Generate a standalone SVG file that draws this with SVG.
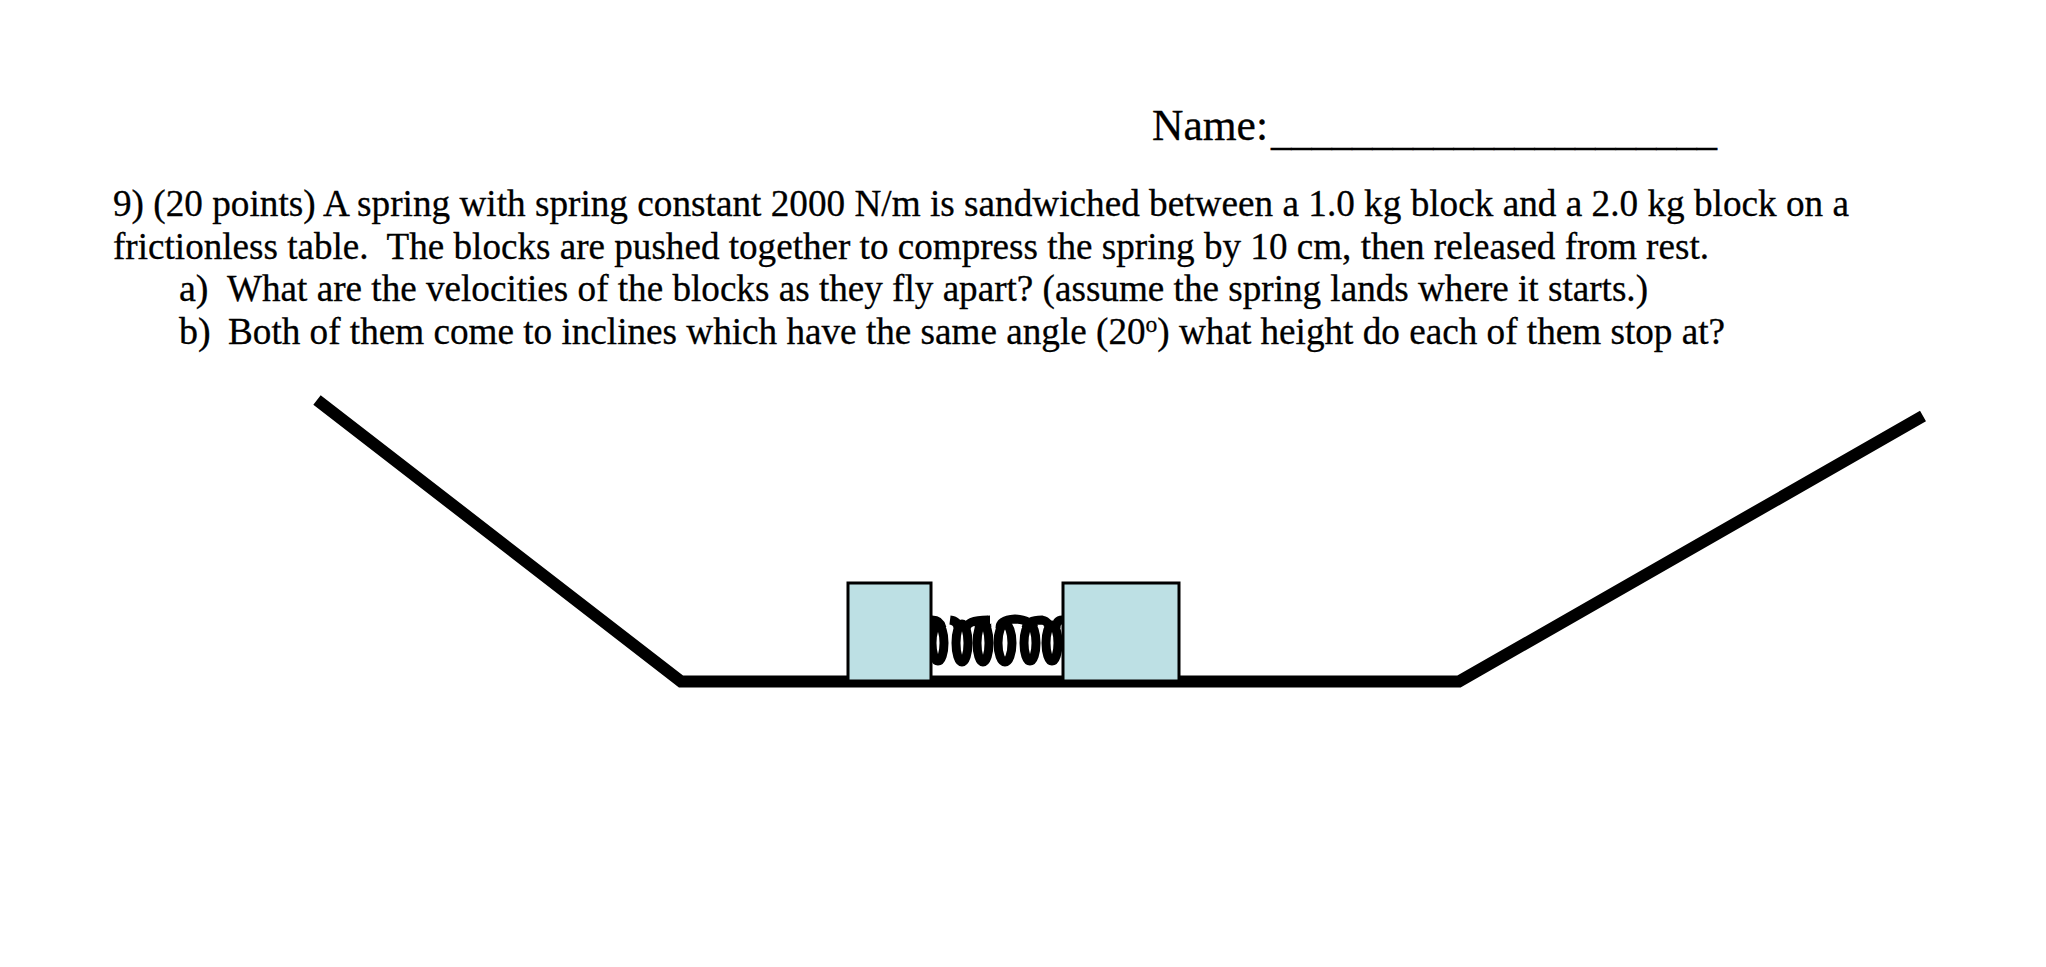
<svg xmlns="http://www.w3.org/2000/svg" width="2046" height="967" viewBox="0 0 2046 967">
<style>
text{font-family:"Liberation Serif","Times New Roman",serif;font-size:38px;fill:#000;stroke:#000;stroke-width:.3px;white-space:pre}
.name{font-size:44px}
.rule{font-size:41px}
.track{fill:none;stroke:#000;stroke-width:12;stroke-linejoin:miter}
.block{fill:#bde0e4;stroke:#000;stroke-width:3}
.coil{fill:none;stroke:#000;stroke-width:9}
</style>
<rect width="2046" height="967" fill="#fff"/>
<g id="text">
<text class="name" x="1152" y="140" textLength="116" lengthAdjust="spacingAndGlyphs">Name:</text>
<text class="rule" x="1271" y="145" textLength="446" lengthAdjust="spacingAndGlyphs">______________________</text>
<text x="113" y="216" textLength="1736" lengthAdjust="spacingAndGlyphs">9) (20 points) A spring with spring constant 2000 N/m is sandwiched between a 1.0 kg block and a 2.0 kg block on a</text>
<text x="113" y="259" textLength="1596" lengthAdjust="spacingAndGlyphs" xml:space="preserve">frictionless table.  The blocks are pushed together to compress the spring by 10 cm, then released from rest.</text>
<text x="179" y="301">a)</text>
<text x="227" y="301" textLength="1421" lengthAdjust="spacingAndGlyphs">What are the velocities of the blocks as they fly apart? (assume the spring lands where it starts.)</text>
<text x="179" y="344">b)</text>
<text x="228" y="344" textLength="1497" lengthAdjust="spacingAndGlyphs">Both of them come to inclines which have the same angle (20<tspan dy="-12" style="font-size:24px">o</tspan><tspan dy="12">) what height do each of them stop at?</tspan></text>
</g>
<g id="connectors">
<path id="track" class="track" d="M317 400L681 681.500H1459L1923 416"/>
</g>
<g id="spring">
<g class="coil">
<ellipse cx="938" cy="643" rx="6" ry="18"/>
<ellipse cx="962" cy="643" rx="6" ry="19"/>
<ellipse cx="983" cy="643" rx="6" ry="19"/>
<ellipse cx="1005" cy="643" rx="7" ry="19"/>
<ellipse cx="1030" cy="643" rx="6" ry="18"/>
<ellipse cx="1052" cy="643" rx="6" ry="18"/>
<path d="M932 620Q940 620 942 628M950 620Q958 621 958 628M966 628Q968 620 988 620Q986 621 987 628M979 628Q980 620 990 620M1000 628Q1000 620 1015 619Q1030 620 1034 628M1026 628Q1028 620 1042 620Q1050 622 1048 628M1056 628Q1056 620 1062 620"/>
</g>
</g>
<g id="block-1">
<rect class="block" x="848" y="583" width="83" height="98"/>
</g>
<g id="block-2">
<rect class="block" x="1063" y="583" width="116" height="98"/>
</g>
</svg>
